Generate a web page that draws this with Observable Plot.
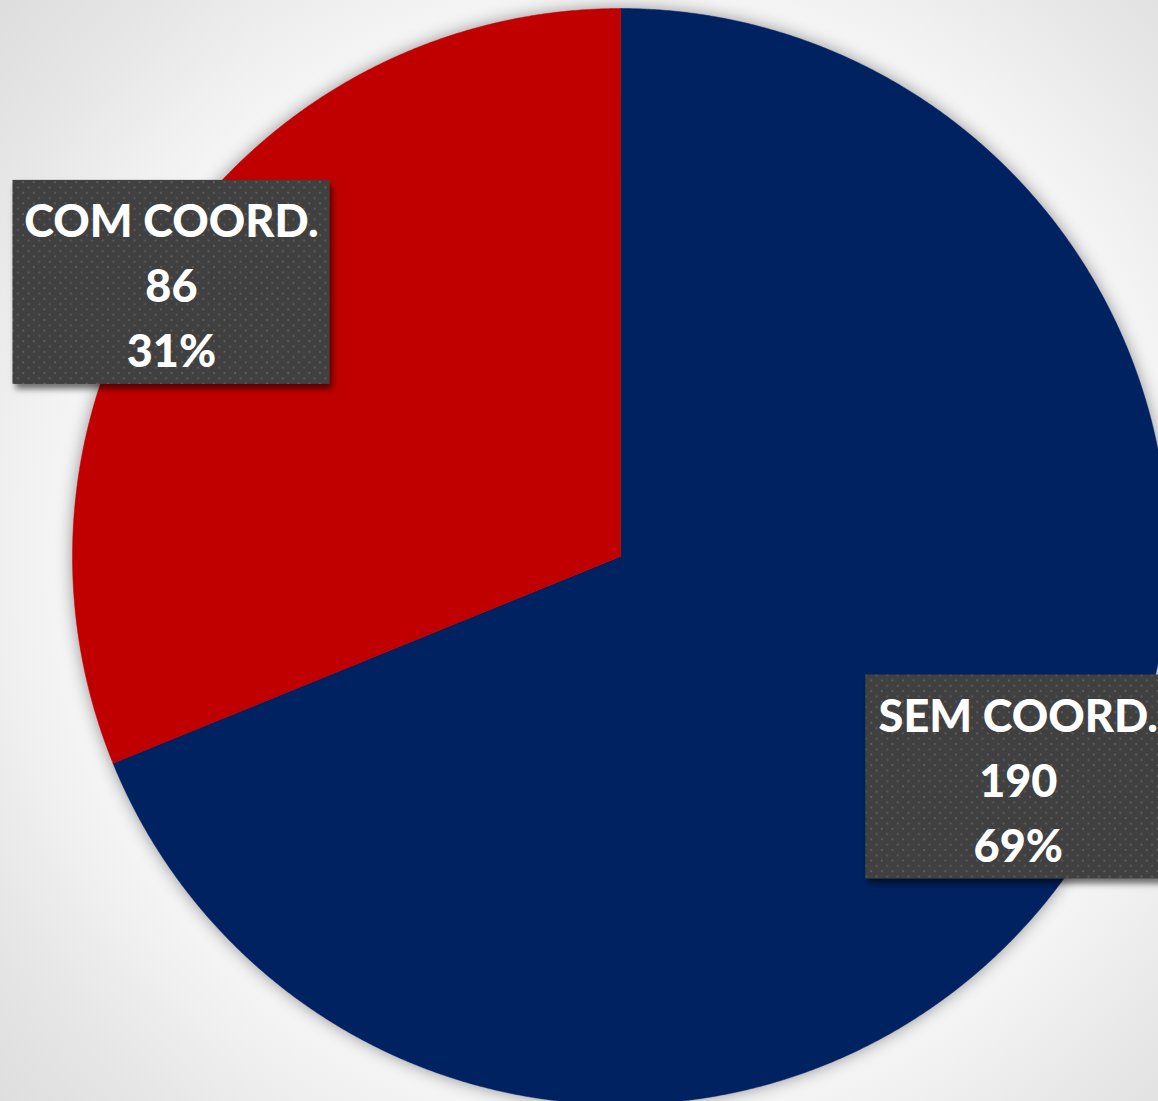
<!DOCTYPE html>
<html>
<head>
<meta charset="utf-8">
<script src="https://cdn.jsdelivr.net/npm/d3@7"></script>
<script src="https://cdn.jsdelivr.net/npm/@observablehq/plot@0.6"></script>
<style>
  html, body { margin: 0; padding: 0; overflow: hidden; }
  body {
    width: 1158px; height: 1101px;
    background: radial-gradient(circle at 620px 556px, #fbfbfb 0px, #f4f4f4 570px, #e6e6e6 720px, #dadada 880px);
  }
  #chart svg { display: block; overflow: hidden; }
</style>
</head>
<body>
<div id="chart"></div>
<script>
// ---- data ----
const categories = ["SEM COORD.", "COM COORD."];
const values = [190, 86];
const colors = ["#002060", "#C00000"];

// ---- layout (pixels) ----
const W = 1158, H = 1101;
const CX = 620, CY = 556, R = 548;
// label anchor: angle (deg clockwise from 12 o'clock) and radial fraction
const labelAngle = [119, 301.4];
const labelRadius = [0.83, 0.96];
const boxW = 317, boxH = 204;
const boxShift = [6, 0]; // horizontal shift of box relative to text centre (px)

const total = d3.sum(values);
const pie = d3.pie().sort(null).value(d => d.value);
const slices = pie(categories.map((c, i) => ({name: c, value: values[i]})));

// polygon points for each slice (unit circle coords, y up)
const pts = [];
slices.forEach(s => {
  const name = s.data.name;
  pts.push({name, x: 0, y: 0});
  const n = Math.max(2, Math.ceil((s.endAngle - s.startAngle) / (Math.PI / 720)));
  for (let k = 0; k <= n; k++) {
    const a = s.startAngle + (s.endAngle - s.startAngle) * k / n;
    pts.push({name, x: Math.sin(a), y: Math.cos(a)});
  }
});

const labels = slices.map((s, i) => {
  const a = labelAngle[i] * Math.PI / 180;
  const pct = Math.round(s.data.value / total * 100);
  return {
    name: s.data.name,
    x: labelRadius[i] * Math.sin(a),
    y: labelRadius[i] * Math.cos(a),
    bx: labelRadius[i] * Math.sin(a) + boxShift[i] / R,
    text: `${s.data.name}\n${s.data.value}\n${pct}%`
  };
});
const hw = boxW / 2 / R, hh = boxH / 2 / R;

const plot = Plot.plot({
  width: W, height: H,
  margin: 0,
  x: {domain: [-CX / R, (W - CX) / R], axis: null},
  y: {domain: [-(H - CY) / R, CY / R], axis: null},
  color: {domain: categories, range: colors},
  style: {background: "transparent"},
  marks: [
    Plot.line(pts, {x: "x", y: "y", z: "name", fill: "name", stroke: "name", strokeWidth: 0.5, curve: "linear-closed"}),
    Plot.rect(labels, {x1: d => d.bx - hw, x2: d => d.bx + hw, y1: d => d.y - hh, y2: d => d.y + hh, fill: "url(#dots)"}),
    Plot.text(labels, {x: "x", y: "y", text: "text", fill: "white", fontSize: 45, fontWeight: 900, fontFamily: "Lato", lineHeight: 1.44, lineAnchor: "middle", textAnchor: "middle", dy: -1})
  ]
});

// defs: dot pattern, shadows
const svg = d3.select(plot);
const defs = svg.insert("defs", ":first-child");
const P = 10.6;
const pat = defs.append("pattern").attr("id", "dots").attr("patternUnits", "userSpaceOnUse")
  .attr("width", P).attr("height", P);
pat.append("rect").attr("width", P).attr("height", P).attr("fill", "#3f3f3f");
pat.append("rect").attr("x", 1).attr("y", 1).attr("width", 2).attr("height", 2).attr("fill", "#5c5c5c");
pat.append("rect").attr("x", 1 + P / 2).attr("y", 1 + P / 2).attr("width", 2).attr("height", 2).attr("fill", "#5c5c5c");
const f1 = defs.append("filter").attr("id", "glow").attr("x", "-20%").attr("y", "-20%").attr("width", "140%").attr("height", "140%");
f1.append("feDropShadow").attr("dx", 0).attr("dy", 0).attr("stdDeviation", 8).attr("flood-color", "#000").attr("flood-opacity", 0.4);
const f2 = defs.append("filter").attr("id", "bshadow").attr("x", "-10%").attr("y", "-10%").attr("width", "130%").attr("height", "130%");
f2.append("feDropShadow").attr("dx", 3).attr("dy", 5).attr("stdDeviation", 3).attr("flood-color", "#000").attr("flood-opacity", 0.55);

svg.selectAll("g[aria-label='line']").attr("filter", "url(#glow)");
svg.selectAll("g[aria-label='rect']").attr("filter", "url(#bshadow)");

document.getElementById("chart").appendChild(plot);
</script>
</body>
</html>
